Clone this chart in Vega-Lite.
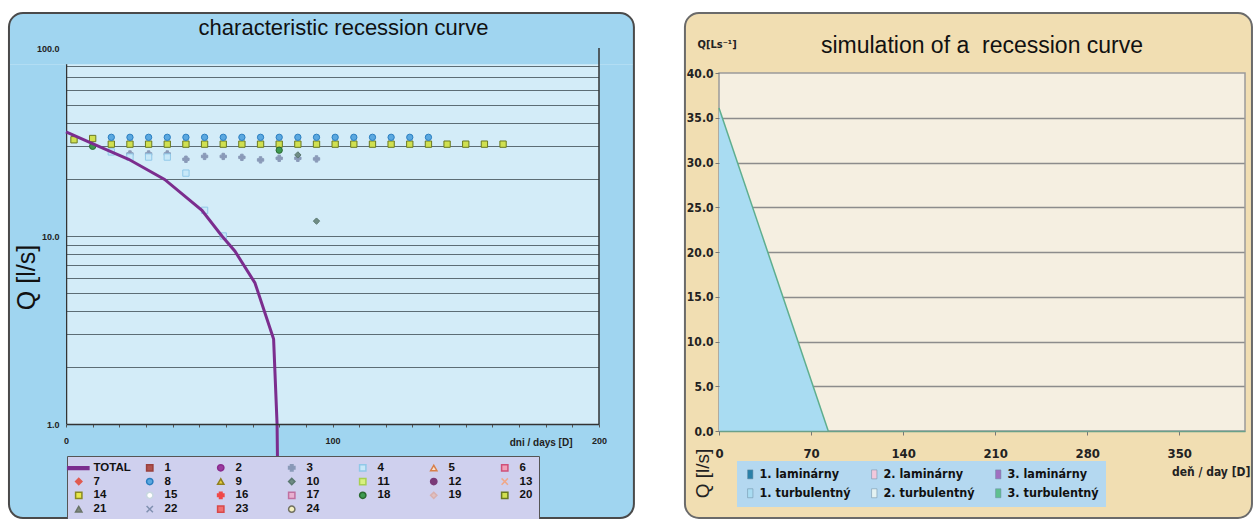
{
  "$schema": "https://vega.github.io/schema/vega-lite/v6.json",
  "padding": {"left": 7, "top": 12, "right": 0, "bottom": 0},
  "background": "#ffffff",
  "config": {"view": {"stroke": null}, "font": "Liberation Sans", "concat": {"spacing": 48}},
  "datasets": {
    "bg": [{"panel": 1}],
    "total": [
      {"day": 0, "q": 35.8}, {"day": 12.3, "q": 30.0}, {"day": 23.5, "q": 25.6}, {"day": 37, "q": 20.0},
      {"day": 51, "q": 13.7}, {"day": 58.5, "q": 10.0}, {"day": 63.4, "q": 8.3}, {"day": 70.9, "q": 5.63},
      {"day": 77.9, "q": 2.83}, {"day": 79.2, "q": 1.0}, {"day": 79.6, "q": 0.33}
    ],
    "points": [
      {"series": "20", "day": 3, "q": 32.5}, {"series": "20", "day": 10, "q": 33.0}, {"series": "20", "day": 17, "q": 30.8},
      {"series": "20", "day": 24, "q": 30.8}, {"series": "20", "day": 31, "q": 30.8}, {"series": "20", "day": 38, "q": 30.8},
      {"series": "20", "day": 45, "q": 30.8}, {"series": "20", "day": 52, "q": 30.8}, {"series": "20", "day": 59, "q": 30.8},
      {"series": "20", "day": 66, "q": 30.8}, {"series": "20", "day": 73, "q": 30.8}, {"series": "20", "day": 80, "q": 30.8},
      {"series": "20", "day": 87, "q": 30.8}, {"series": "20", "day": 94, "q": 30.8}, {"series": "20", "day": 101, "q": 30.8},
      {"series": "20", "day": 108, "q": 30.8}, {"series": "20", "day": 115, "q": 30.8}, {"series": "20", "day": 122, "q": 30.8},
      {"series": "20", "day": 129, "q": 30.8}, {"series": "20", "day": 136, "q": 30.8}, {"series": "20", "day": 143, "q": 30.8},
      {"series": "20", "day": 150, "q": 30.8}, {"series": "20", "day": 157, "q": 30.8}, {"series": "20", "day": 164, "q": 30.8},
      {"series": "8", "day": 17, "q": 33.5}, {"series": "8", "day": 24, "q": 33.5}, {"series": "8", "day": 31, "q": 33.5},
      {"series": "8", "day": 38, "q": 33.5}, {"series": "8", "day": 45, "q": 33.5}, {"series": "8", "day": 52, "q": 33.5},
      {"series": "8", "day": 59, "q": 33.5}, {"series": "8", "day": 66, "q": 33.5}, {"series": "8", "day": 73, "q": 33.5},
      {"series": "8", "day": 80, "q": 33.5}, {"series": "8", "day": 87, "q": 33.5}, {"series": "8", "day": 94, "q": 33.5},
      {"series": "8", "day": 101, "q": 33.5}, {"series": "8", "day": 108, "q": 33.5}, {"series": "8", "day": 115, "q": 33.5},
      {"series": "8", "day": 122, "q": 33.5}, {"series": "8", "day": 129, "q": 33.5}, {"series": "8", "day": 136, "q": 33.5},
      {"series": "3", "day": 24, "q": 27.3}, {"series": "3", "day": 31, "q": 27.3}, {"series": "3", "day": 38, "q": 27.3},
      {"series": "3", "day": 45, "q": 25.6}, {"series": "3", "day": 52, "q": 26.5}, {"series": "3", "day": 59, "q": 26.5},
      {"series": "3", "day": 66, "q": 26.2}, {"series": "3", "day": 73, "q": 25.4}, {"series": "3", "day": 80, "q": 25.9},
      {"series": "3", "day": 87, "q": 25.9}, {"series": "3", "day": 94, "q": 25.7},
      {"series": "4", "day": 17, "q": 28.0}, {"series": "4", "day": 24, "q": 26.3}, {"series": "4", "day": 31, "q": 26.3},
      {"series": "4", "day": 38, "q": 26.3}, {"series": "4", "day": 45, "q": 21.6}, {"series": "4", "day": 52, "q": 13.7},
      {"series": "4", "day": 59, "q": 10.0},
      {"series": "18", "day": 10, "q": 30.0}, {"series": "18", "day": 80, "q": 28.6},
      {"series": "10", "day": 87, "q": 27.0}, {"series": "10", "day": 94, "q": 12.0}
    ],
    "sim": [
      {"series": "1. turbulentný", "day": 0, "q": 36.1},
      {"series": "1. turbulentný", "day": 83.1, "q": 0}
    ]
  },
  "hconcat": [
    {
      "width": 533,
      "height": 376,
      "view": {"fill": "#d3ecf8", "stroke": null},
      "title": {"text": "characteristic recession curve", "font": "Liberation Sans", "fontSize": 22, "fontWeight": "normal", "color": "#111111", "anchor": "middle", "frame": "group", "offset": -45, "dx": 11, "baseline": "alphabetic"},
      "layer": [
        {
          "data": {"name": "bg"},
          "mark": {"type": "rect", "fill": "#a0d5f0", "cornerRadiusTopLeft": 14, "cornerRadiusTopRight": 14, "clip": false},
          "encoding": {
            "x": {"datum": -21.4, "type": "quantitative", "scale": {"domain": [0, 200], "nice": false, "zero": false}, "axis": null},
            "x2": {"datum": 213.1},
            "y": {
              "datum": 153.5, "type": "quantitative", "scale": {"type": "log", "domain": [1, 100], "nice": false},
              "axis": {
                "orient": "left", "values": [2, 3, 4, 5, 6, 7, 8, 9, 10, 20, 30, 40, 50, 60, 70, 80],
                "labels": false, "ticks": false, "title": null,
                "grid": true, "gridColor": "#4f5f66", "gridWidth": 1.2, "gridOpacity": 0.9,
                "domain": true, "domainColor": "#333333", "domainWidth": 1.5, "zindex": 0
              }
            },
            "y2": {"datum": 82}
          }
        },
        {
          "data": {"name": "bg"},
          "mark": {"type": "rect", "fill": "#a0d5f0", "cornerRadiusBottomLeft": 14, "cornerRadiusBottomRight": 14, "clip": false},
          "encoding": {
            "x": {"datum": -21.4, "type": "quantitative", "axis": null},
            "x2": {"datum": 213.1},
            "y": {"datum": 1, "type": "quantitative", "axis": null},
            "y2": {"datum": 0.316}
          }
        },
        {
          "data": {"name": "bg"},
          "mark": {"type": "rect", "fill": "#a0d5f0", "clip": false},
          "encoding": {
            "x": {"datum": -21.4, "type": "quantitative", "axis": null},
            "x2": {"datum": 0},
            "y": {"datum": 82, "type": "quantitative", "axis": null},
            "y2": {"datum": 1}
          }
        },
        {
          "data": {"name": "bg"},
          "mark": {"type": "rect", "fill": "#a0d5f0", "clip": false},
          "encoding": {
            "x": {"datum": 200, "type": "quantitative", "axis": null},
            "x2": {"datum": 213.1},
            "y": {"datum": 82, "type": "quantitative", "axis": null},
            "y2": {"datum": 1}
          }
        },
        {
          "data": {"name": "bg"},
          "mark": {"type": "rect", "fill": "transparent", "stroke": "#4a4a4a", "strokeWidth": 2, "cornerRadius": 14, "clip": false},
          "encoding": {
            "x": {"datum": -21.4, "type": "quantitative", "axis": null},
            "x2": {"datum": 213.1},
            "y": {"datum": 153.5, "type": "quantitative", "axis": null},
            "y2": {"datum": 0.316}
          }
        },
        {
          "data": {"name": "bg"},
          "mark": {"type": "rule", "color": "#333333", "strokeWidth": 1.5},
          "encoding": {
            "x": {"datum": 200, "type": "quantitative", "axis": null},
            "y": {"datum": 1, "type": "quantitative", "axis": null},
            "y2": {"datum": 100}
          }
        },
        {
          "data": {"name": "points"},
          "mark": {"type": "point", "filled": true, "opacity": 1, "size": 40, "strokeWidth": 1},
          "encoding": {
            "x": {"field": "day", "type": "quantitative", "axis": null},
            "y": {"field": "q", "type": "quantitative", "axis": null},
            "color": {
              "field": "series", "type": "nominal",
              "scale": {
                "domain": ["TOTAL", "1", "2", "3", "4", "5", "6", "7", "8", "9", "10", "11", "12", "13", "14", "15", "16", "17", "18", "19", "20", "21", "22", "23", "24"],
                "range": ["#7b2d8e", "#b0524e", "#9a3b9e", "#8a9ab8", "#c8e8f8", "#f8e0d0", "#f0a0b8", "#e05a50", "#5aa8e0", "#e8d040", "#6f8c84", "#d8f080", "#7a3a78", "#f0a888", "#e8e848", "#ffffff", "#f04848", "#e8b0d0", "#3e9a50", "#e0c0c0", "#d0e050", "#7f8a80", "#8090b0", "#f07070", "#f4f0c0"]
              },
              "legend": {
                "orient": "none", "legendX": 1, "legendY": 408, "direction": "horizontal", "columns": 7, "gridAlign": "all",
                "title": null, "fillColor": "#cfd0ee", "strokeColor": "#555555", "padding": 6,
                "labelFont": "Liberation Sans", "labelFontSize": 11.5, "labelFontWeight": "bold", "labelColor": "#111111",
                "symbolSize": 40, "symbolStrokeWidth": 1.5, "columnPadding": 12, "rowPadding": 0.8, "labelOffset": 9
              }
            },
            "stroke": {
              "field": "series", "type": "nominal",
              "scale": {
                "domain": ["TOTAL", "1", "2", "3", "4", "5", "6", "7", "8", "9", "10", "11", "12", "13", "14", "15", "16", "17", "18", "19", "20", "21", "22", "23", "24"],
                "range": ["#7b2d8e", "#9a403c", "#8a2a8e", "#8a9ab8", "#90c8e8", "#d8804a", "#d05078", "#e05a50", "#2a7ec0", "#908020", "#5a7870", "#a8d050", "#7a3a78", "#f0a888", "#8a8a20", "#c8d8e0", "#f04848", "#c070a0", "#2a6a30", "#d8b0b0", "#6a7a20", "#6a7468", "#8090b0", "#d84848", "#707060"]
              },
              "legend": {
                "orient": "none", "legendX": 1, "legendY": 408, "direction": "horizontal", "columns": 7, "gridAlign": "all",
                "title": null, "fillColor": "#cfd0ee", "strokeColor": "#555555", "padding": 6,
                "labelFont": "Liberation Sans", "labelFontSize": 11.5, "labelFontWeight": "bold", "labelColor": "#111111",
                "symbolSize": 40, "symbolStrokeWidth": 1.5, "columnPadding": 12, "rowPadding": 0.8, "labelOffset": 9
              }
            },
            "shape": {
              "field": "series", "type": "nominal",
              "scale": {
                "domain": ["TOTAL", "1", "2", "3", "4", "5", "6", "7", "8", "9", "10", "11", "12", "13", "14", "15", "16", "17", "18", "19", "20", "21", "22", "23", "24"],
                "range": ["M-3.5,-0.45H3.2V0.45H-3.5Z", "square", "circle", "cross", "square", "triangle-up", "square", "diamond", "circle", "triangle-up", "diamond", "square", "circle", "M-1,-1L1,1M-1,1L1,-1", "square", "circle", "cross", "square", "circle", "diamond", "square", "triangle-up", "M-1,-1L1,1M-1,1L1,-1", "square", "circle"]
              },
              "legend": {
                "orient": "none", "legendX": 1, "legendY": 408, "direction": "horizontal", "columns": 7, "gridAlign": "all",
                "title": null, "fillColor": "#cfd0ee", "strokeColor": "#555555", "padding": 6,
                "labelFont": "Liberation Sans", "labelFontSize": 11.5, "labelFontWeight": "bold", "labelColor": "#111111",
                "symbolSize": 40, "symbolStrokeWidth": 1.5, "columnPadding": 12, "rowPadding": 0.8, "labelOffset": 9
              }
            }
          }
        },
        {
          "data": {"name": "total"},
          "mark": {"type": "line", "color": "#7b2d8e", "strokeWidth": 3, "clip": false},
          "encoding": {
            "x": {
              "field": "day", "type": "quantitative",
              "axis": {
                "orient": "bottom",
                "values": [0, 10, 20, 30, 40, 50, 60, 70, 80, 90, 100, 110, 120, 130, 140, 150, 160, 170, 180, 190, 200],
                "format": "d",
                "labelExpr": "datum.value % 100 == 0 ? datum.label : ''",
                "labelFont": "Liberation Sans", "labelFontSize": 9, "labelFontWeight": "bold", "labelColor": "#222222",
                "labelPadding": 9, "labelFlush": false, "labelOverlap": false,
                "tickSize": 3, "tickColor": "#555555", "domainColor": "#333333", "domainWidth": 1.5, "grid": false,
                "title": "dni / days [D]", "titleFont": "Liberation Sans", "titleFontSize": 10, "titleFontWeight": "bold", "titleColor": "#222222",
                "titleX": 506, "titleY": 18, "titleAlign": "right", "titleBaseline": "middle", "titleAngle": 0,
                "zindex": 1
              }
            },
            "y": {
              "field": "q", "type": "quantitative",
              "axis": {
                "orient": "left",
                "values": [1, 10, 100], "format": ".1f",
                "labelFont": "Liberation Sans", "labelFontSize": 9, "labelFontWeight": "bold", "labelColor": "#222222",
                "labelPadding": 7, "labelOverlap": false, "ticks": false, "grid": false, "domain": false,
                "title": "Q [l/s]", "titleFont": "Liberation Sans", "titleFontSize": 25, "titleFontWeight": "normal", "titleColor": "#111111",
                "titleX": -40, "titleY": 229, "titleAngle": -90, "titleAlign": "center", "titleBaseline": "middle",
                "zindex": 1
              }
            }
          }
        }
      ],
      "resolve": {"axis": {"x": "independent", "y": "independent"}}
    },
    {
      "width": 526,
      "height": 383,
      "view": {"fill": "#f5efe1", "stroke": null},
      "title": {"text": "simulation of a\u00a0 recession curve", "font": "Liberation Sans", "fontSize": 23, "fontWeight": "normal", "color": "#111111", "anchor": "middle", "frame": "group", "offset": -64, "baseline": "alphabetic"},
      "layer": [
        {
          "data": {"name": "bg"},
          "mark": {"type": "rect", "fill": "#f1deb2", "cornerRadiusTopLeft": 14, "cornerRadiusTopRight": 14, "clip": false},
          "encoding": {
            "x": {"datum": -25.9, "type": "quantitative", "scale": {"domain": [0, 400], "nice": false, "zero": false}, "axis": null},
            "x2": {"datum": 405.3},
            "y": {
              "datum": 46.71, "type": "quantitative", "scale": {"domain": [0, 42.8], "nice": false, "zero": false},
              "axis": {
                "orient": "left", "values": [5, 10, 15, 20, 25, 30, 35],
                "labels": false, "ticks": false, "domain": false, "title": null,
                "grid": true, "gridColor": "#8c8c8c", "gridWidth": 1.5, "zindex": 0
              }
            },
            "y2": {"datum": 40}
          }
        },
        {
          "data": {"name": "bg"},
          "mark": {"type": "rect", "fill": "#f1deb2", "cornerRadiusBottomLeft": 14, "cornerRadiusBottomRight": 14, "clip": false},
          "encoding": {
            "x": {"datum": -25.9, "type": "quantitative", "axis": null},
            "x2": {"datum": 405.3},
            "y": {"datum": 0, "type": "quantitative", "axis": null},
            "y2": {"datum": -9.72}
          }
        },
        {
          "data": {"name": "bg"},
          "mark": {"type": "rect", "fill": "#f1deb2", "clip": false},
          "encoding": {
            "x": {"datum": -25.9, "type": "quantitative", "axis": null},
            "x2": {"datum": 0},
            "y": {
              "datum": 40, "type": "quantitative",
              "axis": {
                "orient": "left", "labels": false, "ticks": false, "domain": false, "grid": false,
                "title": "Q [l/s]", "titleFont": "Liberation Sans", "titleFontSize": 19, "titleFontWeight": "normal", "titleColor": "#222222",
                "titleX": -17, "titleY": 425, "titleAngle": -90, "titleAlign": "center", "titleBaseline": "middle",
                "zindex": 1
              }
            },
            "y2": {"datum": 0}
          }
        },
        {
          "data": {"name": "bg"},
          "mark": {"type": "rect", "fill": "#f1deb2", "clip": false},
          "encoding": {
            "x": {"datum": 400, "type": "quantitative", "axis": null},
            "x2": {"datum": 405.3},
            "y": {"datum": 40, "type": "quantitative", "axis": null},
            "y2": {"datum": 0}
          }
        },
        {
          "data": {"name": "bg"},
          "mark": {"type": "rect", "fill": "transparent", "stroke": "#6a6a6a", "strokeWidth": 2, "cornerRadius": 14, "clip": false},
          "encoding": {
            "x": {"datum": -25.9, "type": "quantitative", "axis": null},
            "x2": {"datum": 405.3},
            "y": {"datum": 46.71, "type": "quantitative", "axis": null},
            "y2": {"datum": -9.72}
          }
        },
        {
          "data": {"name": "bg"},
          "mark": {"type": "rect", "fill": "transparent", "stroke": "#9a9a9a", "strokeWidth": 1.5, "clip": false},
          "encoding": {
            "x": {"datum": 0, "type": "quantitative", "axis": null},
            "x2": {"datum": 400},
            "y": {"datum": 40, "type": "quantitative", "axis": null},
            "y2": {"datum": 0}
          }
        },
        {
          "data": {"name": "sim"},
          "mark": {"type": "area", "opacity": 1},
          "encoding": {
            "x": {
              "field": "day", "type": "quantitative",
              "axis": {
                "orient": "bottom",
                "values": [0, 70, 140, 210, 280, 350], "format": "d",
                "labelFont": "Liberation Sans Narrow, DejaVu Sans Condensed, sans-serif", "labelFontSize": 13, "labelFontWeight": "bold", "labelColor": "#222222",
                "labelPadding": 12, "labelFlush": false, "tickSize": 4, "tickColor": "#777777",
                "domainColor": "#6aa08a", "domainWidth": 1.5, "grid": false,
                "title": "deň / day [D]", "titleFont": "Liberation Sans Narrow, DejaVu Sans Condensed, sans-serif", "titleFontSize": 12, "titleFontWeight": "bold", "titleColor": "#222222",
                "titleX": 531, "titleY": 40, "titleAlign": "right", "titleBaseline": "middle", "titleAngle": 0,
                "zindex": 1
              }
            },
            "y": {
              "field": "q", "type": "quantitative",
              "axis": {
                "orient": "left",
                "values": [0, 5, 10, 15, 20, 25, 30, 35, 40], "format": ".1f",
                "labelFont": "Liberation Sans Narrow, DejaVu Sans Condensed, sans-serif", "labelFontSize": 12, "labelFontWeight": "bold", "labelColor": "#222222",
                "labelPadding": 2, "tickSize": 4, "tickColor": "#777777",
                "grid": false, "domain": false,
                "title": "Q[Ls⁻¹]", "titleFont": "Liberation Sans Narrow, DejaVu Sans Condensed, sans-serif", "titleFontSize": 11, "titleFontWeight": "bold", "titleColor": "#222222",
                "titleX": -22, "titleY": -4, "titleAngle": 0, "titleAlign": "left", "titleBaseline": "middle",
                "zindex": 1
              }
            },
            "color": {
              "field": "series", "type": "nominal",
              "scale": {
                "domain": ["1. laminárny", "2. laminárny", "3. laminárny", "1. turbulentný", "2. turbulentný", "3. turbulentný"],
                "range": ["#2a80a8", "#f2c8dc", "#a070c0", "#a9dcf2", "#e4f2f2", "#60c090"]
              },
              "legend": {
                "orient": "none", "legendX": 18, "legendY": 413, "direction": "horizontal", "columns": 3, "gridAlign": "all",
                "title": null, "fillColor": "#b4d8f0", "strokeColor": null, "padding": 7,
                "labelFont": "Liberation Sans Narrow, DejaVu Sans Condensed, sans-serif", "labelFontSize": 12.5, "labelFontWeight": "bold", "labelColor": "#111111",
                "symbolType": "M-0.6,-1H0.6V1H-0.6Z", "symbolSize": 80, "symbolStrokeColor": "#6a8aa0", "symbolStrokeWidth": 0.5,
                "columnPadding": 17, "rowPadding": 6, "labelOffset": 3
              }
            }
          }
        },
        {
          "data": {"name": "sim"},
          "mark": {"type": "line", "color": "#5eae8e", "strokeWidth": 1.5},
          "encoding": {
            "x": {"field": "day", "type": "quantitative", "axis": null},
            "y": {"field": "q", "type": "quantitative", "axis": null}
          }
        }
      ],
      "resolve": {"axis": {"x": "independent", "y": "independent"}}
    }
  ],
  "resolve": {
    "scale": {"x": "independent", "y": "independent", "color": "independent", "stroke": "independent", "shape": "independent"},
    "legend": {"color": "independent", "stroke": "independent", "shape": "independent"}
  }
}
